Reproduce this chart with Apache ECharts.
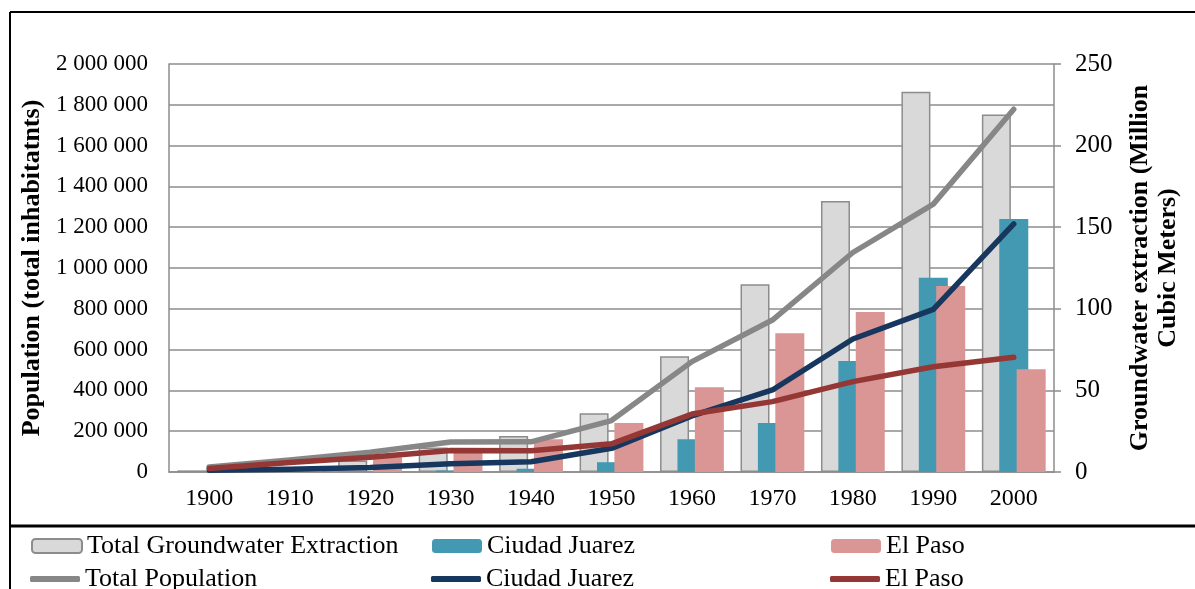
<!DOCTYPE html>
<html lang="en">
<head>
  <meta charset="UTF-8">
  <title>Population and groundwater extraction</title>
  <style>
    html, body { margin: 0; padding: 0; background: #fff; }
    #chart { width: 1195px; height: 589px; }
  </style>
</head>
<body>
  <div id="chart"></div>
  <script src="https://cdn.jsdelivr.net/npm/echarts@6/dist/echarts.min.js"></script>
  <script>
    var years = ['1900', '1910', '1920', '1930', '1940', '1950', '1960', '1970', '1980', '1990', '2000']

    // groundwater extraction, million m3 (right axis)
    var extractionTotal = [1, 3, 7, 15, 22, 36, 71, 115, 166, 233, 219]
    var extractionJuarez = [0, 0, 0, 1, 2, 6, 20, 30, 68, 119, 155]
    var extractionElPaso = [0, 2, 9, 12, 20, 30, 52, 85, 98, 114, 63]

    // population, inhabitants (left axis)
    var popTotal = [24000, 59000, 97000, 147000, 148000, 252000, 541000, 745000, 1076000, 1313000, 1778000]
    var popJuarez = [9000, 14000, 22000, 40000, 50000, 116000, 275000, 402000, 652000, 797000, 1216000]
    var popElPaso = [17000, 47000, 72000, 105000, 104000, 138000, 284000, 345000, 443000, 516000, 562000]

    var serif = 'Liberation Serif'
    var gray = '#8c8c8c'

    function spaced (v) {
      return String(v).replace(/\B(?=(\d{3})+(?!\d))/g, ' ')
    }

    function legendAt (name, left, top, isLine) {
      var l = {
        data: [name],
        left: left,
        top: top,
        padding: 0,
        itemWidth: 50,
        itemHeight: isLine ? 6 : 14,
        selectedMode: false,
        formatter: function (n) { return n.replace(' population', '') },
        textStyle: { fontFamily: serif, fontSize: 26, color: '#000' }
      }
      if (isLine) l.icon = 'roundRect'
      return l
    }

    var chart = echarts.init(document.getElementById('chart'))

    var option = {
      animation: false,
      backgroundColor: '#fff',
      grid: { left: 169, right: 141, top: 64, bottom: 117, outerBoundsMode: 'none' },
      legend: [
        legendAt('Total Groundwater Extraction', 31, 533, false),
        legendAt('Ciudad Juarez', 432, 533, false),
        legendAt('El Paso', 831, 533, false),
        legendAt('Total Population population', 30, 566, true),
        legendAt('Ciudad Juarez population', 431, 566, true),
        legendAt('El Paso population', 830, 566, true)
      ],
      xAxis: {
        type: 'category',
        data: years,
        axisLine: { lineStyle: { color: gray, width: 1.5 } },
        axisTick: { show: false },
        axisLabel: { fontFamily: serif, fontSize: 24, color: '#000', margin: 15 }
      },
      yAxis: [
        {
          type: 'value',
          min: 0,
          max: 2000000,
          interval: 200000,
          name: 'Population (total inhabitatnts)',
          nameLocation: 'middle',
          nameRotate: 90,
          nameGap: 119,
          nameTextStyle: { fontFamily: serif, fontSize: 26, fontWeight: 'bold', color: '#000' },
          axisLine: { show: true, lineStyle: { color: gray, width: 1.5 } },
          axisTick: { show: false },
          axisLabel: { fontFamily: serif, fontSize: 23, color: '#000', margin: 21, formatter: spaced },
          splitLine: { lineStyle: { color: gray, width: 1.5 } }
        },
        {
          type: 'value',
          min: 0,
          max: 250,
          interval: 50,
          name: 'Groundwater extraction (Million\nCubic Meters)',
          nameLocation: 'middle',
          nameRotate: 90,
          nameGap: 72,
          nameTextStyle: { fontFamily: serif, fontSize: 26, fontWeight: 'bold', color: '#000', lineHeight: 28 },
          axisLine: { show: true, lineStyle: { color: gray, width: 1.5 } },
          axisTick: { show: true, length: 7, lineStyle: { color: gray, width: 1.5 } },
          axisLabel: { fontFamily: serif, fontSize: 25, color: '#000', margin: 21 },
          splitLine: { show: false }
        }
      ],
      series: [
        {
          name: 'Total Groundwater Extraction',
          type: 'bar',
          yAxisIndex: 1,
          barWidth: 29,
          barGap: '-40%',
          itemStyle: { color: '#d9d9d9', borderColor: gray, borderWidth: 1.5 },
          data: extractionTotal
        },
        {
          name: 'Ciudad Juarez',
          type: 'bar',
          yAxisIndex: 1,
          barWidth: 29,
          barGap: '-40%',
          itemStyle: { color: '#4399b1' },
          data: extractionJuarez
        },
        {
          name: 'El Paso',
          type: 'bar',
          yAxisIndex: 1,
          barWidth: 29,
          barGap: '-40%',
          itemStyle: { color: '#d99694' },
          data: extractionElPaso
        },
        {
          name: 'Total Population population',
          type: 'line',
          symbol: 'none',
          itemStyle: { color: '#878787' },
          lineStyle: { color: '#878787', width: 5.5, cap: 'round', join: 'round' },
          data: popTotal
        },
        {
          name: 'Ciudad Juarez population',
          type: 'line',
          symbol: 'none',
          itemStyle: { color: '#17375e' },
          lineStyle: { color: '#17375e', width: 5.5, cap: 'round', join: 'round' },
          data: popJuarez
        },
        {
          name: 'El Paso population',
          type: 'line',
          symbol: 'none',
          itemStyle: { color: '#953735' },
          lineStyle: { color: '#953735', width: 5.5, cap: 'round', join: 'round' },
          data: popElPaso
        }
      ],
      graphic: [
        { type: 'line', shape: { x1: 10, y1: 12, x2: 1195, y2: 12 }, style: { stroke: '#000', lineWidth: 2 } },
        { type: 'line', shape: { x1: 10, y1: 12, x2: 10, y2: 589 }, style: { stroke: '#000', lineWidth: 2 } },
        { type: 'line', shape: { x1: 10, y1: 526, x2: 1195, y2: 526 }, style: { stroke: '#000', lineWidth: 3 } }
      ]
    }

    chart.setOption(option)
  </script>
</body>
</html>
